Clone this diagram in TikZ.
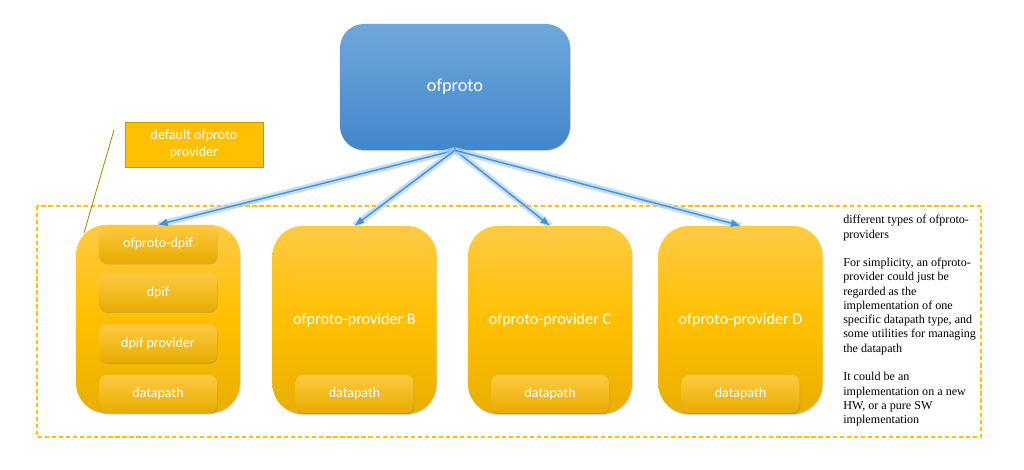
\documentclass[tikz,border=0pt]{standalone}
\usepackage{fontspec}
\setmainfont{Liberation Serif}
\newfontfamily\boxfont{Carlito}
\usetikzlibrary{arrows.meta,shadows}
\definecolor{provtop}{HTML}{FFCA45}
\definecolor{provmid}{HTML}{FFC000}
\definecolor{provbot}{HTML}{E9AF00}
\definecolor{innertop}{HTML}{FFC942}
\definecolor{innerbot}{HTML}{E6AC00}
\definecolor{ofptop}{HTML}{6FA7DC}
\definecolor{ofpbot}{HTML}{4287CB}
\definecolor{linkblue}{HTML}{4A8FD6}
\definecolor{glowblue}{HTML}{A9D0F5}
\definecolor{gold}{HTML}{FFC000}
\definecolor{calledge}{HTML}{C99A00}
\definecolor{callline}{HTML}{B38600}
\begin{document}
\begin{tikzpicture}[x=0.025cm,y=-0.025cm,
	provbox/.style={rounded corners=0.75cm, top color=provtop, bottom color=provbot, middle color=provmid,
		minimum width=4.1cm, minimum height=4.7cm, text=white, font=\boxfont\fontsize{11.5}{13}\selectfont,
		drop shadow={opacity=0.25, shadow xshift=0.6pt, shadow yshift=-0.8pt}},
	innerbox/.style={rounded corners=0.2cm, top color=innertop, bottom color=innerbot,
		minimum width=2.95cm, minimum height=0.96cm, text=white, font=\boxfont\fontsize{10}{12}\selectfont,
		drop shadow={opacity=0.4, shadow xshift=0.4pt, shadow yshift=-0.9pt}},
	glow/.style={line width=4.5pt, glowblue, opacity=0.7},
	link/.style={line width=1pt, linkblue, -{Latex[length=2.4mm,width=2mm]}}]
	\useasboundingbox (0,0) rectangle (1024,469);
	% frame round the providers
	\draw[gold, line width=0.8pt, dash pattern=on 3pt off 2pt] (37,206) rectangle (981,437);
	% ofproto
	\node[rounded corners=0.6cm, top color=ofptop, bottom color=ofpbot, minimum width=5.75cm, minimum height=3.15cm,
		text=white, font=\boxfont\fontsize{13}{15}\selectfont,
		drop shadow={opacity=0.3, shadow xshift=0.6pt, shadow yshift=-0.8pt}] (ofp) at (455,87) {ofproto};
	% providers
	\node[provbox] (provA) at (158,319) {};
	\node[provbox] (provB) at (354.5,320) {ofproto-provider B};
	\node[provbox] (provC) at (550,320) {ofproto-provider C};
	\node[provbox] (provD) at (740.5,320) {ofproto-provider D};
	% default provider layers
	\node[innerbox] (ofpdpif) at (158,244) {ofproto-dpif};
	\node[innerbox] (dpif) at (158,292.5) {dpif};
	\node[innerbox] (dpifprov) at (158,343.5) {dpif provider};
	\node[innerbox] (dpA) at (158,394) {datapath};
	\node[innerbox] (dpB) at (354.5,394) {datapath};
	\node[innerbox] (dpC) at (550,394) {datapath};
	\node[innerbox] (dpD) at (740.5,394) {datapath};
	% links
	\foreach \p in {provA,provB,provC,provD} {
		\draw[glow] (ofp.south) -- (\p.north);
		\draw[link] (ofp.south) -- (\p.north);
	}
	% callout
	\node[fill=gold, draw=calledge, line width=0.6pt, minimum width=3.45cm, minimum height=1.125cm, align=center,
		text=white, font=\boxfont\fontsize{10}{12}\selectfont] (dflt) at (194,144.5) {default ofproto\\provider};
	\coordinate (calltop) at (114,130);
	\coordinate (callend) at (84,233);
	\draw[callline, line width=0.6pt] (calltop) -- (callend);
	% notes
	\node[anchor=north west, align=left, inner sep=0, font=\fontsize{8.6}{10.15}\selectfont] (notes) at (843,215)
		{different types of ofproto-\\providers\\[10.15pt]
		For simplicity, an ofproto-\\provider could just be\\regarded as the\\implementation of one\\
		specific datapath type, and\\some utilities for managing\\the datapath\\[10.15pt]
		It could be an\\implementation on a new\\HW, or a pure SW\\implementation};
\end{tikzpicture}
\end{document}
